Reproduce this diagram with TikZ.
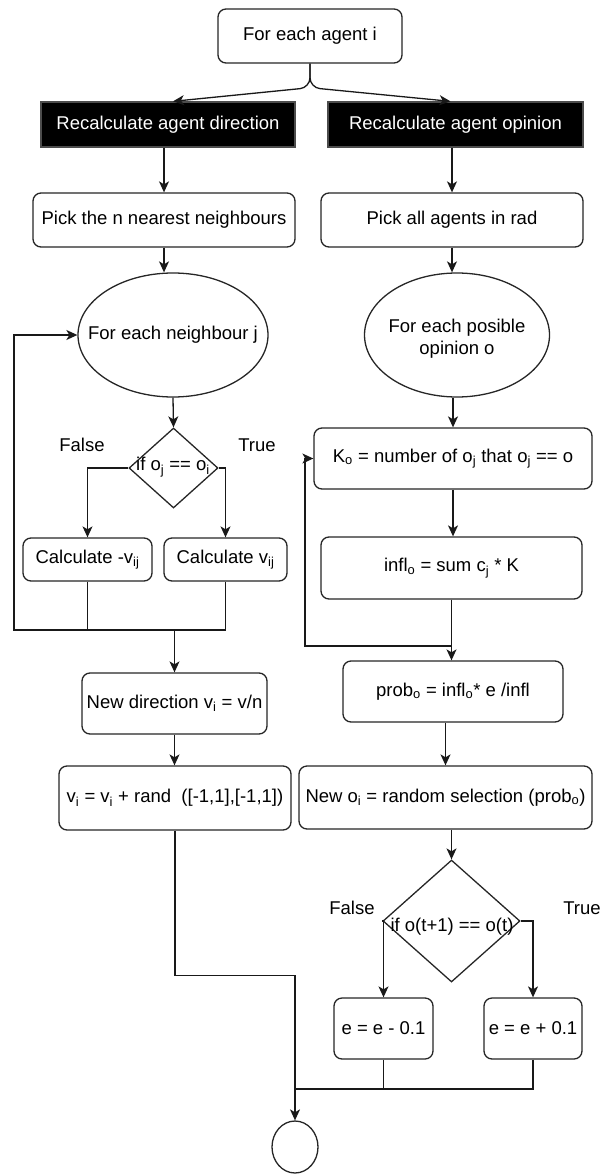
\documentclass[tikz,border=0pt]{standalone}
\usepackage{fontspec}
\setmainfont{Liberation Sans}
\usetikzlibrary{shapes.geometric,arrows.meta}

\newcommand{\idx}[1]{\textsubscript{#1}}

\tikzset{
  box/.style={draw=black!85, line width=1.3pt, rounded corners=8pt, fill=white, inner sep=0pt, align=center},
  head/.style={draw=black!70, line width=1.3pt, fill=black, text=white, inner sep=0pt},
  loopnode/.style={ellipse, draw=black!85, line width=1.3pt, inner sep=0pt},
  decision/.style={diamond, draw=black!85, line width=1.3pt, inner sep=0pt},
  lbl/.style={inner sep=0pt, align=center},
  conn/.style={line width=1.3pt, black!90},
  arr/.style={conn, -{Stealth[length=11pt,width=10pt,inset=3pt]}}
}

\begin{document}
\begin{tikzpicture}[x=1pt,y=-1pt,font=\fontsize{18.5}{22}\selectfont]

\useasboundingbox (0,0) rectangle (601,1174);

% Start
\node[box, minimum width=184pt, minimum height=54pt] (agent) at (310,36) {For each agent i};

% two branches
\node[head, minimum width=254pt, minimum height=45pt] (dirhead) at (168,124.5) {Recalculate agent direction};
\node[head, minimum width=255pt, minimum height=45pt] (ophead) at (455.5,124.5) {Recalculate agent opinion};

\node[box, minimum width=262pt, minimum height=54pt] (pickn) at (164,220) {Pick the n nearest neighbours};
\node[box, minimum width=262pt, minimum height=54pt] (pickall) at (452,220) {Pick all agents in rad};

% left side: direction
\node[loopnode, minimum width=190pt, minimum height=124pt] (nbr) at (173,335) {};
\node[lbl] (nbrtxt) at (nbr) {For each neighbour j};

\node[decision, minimum width=89pt, minimum height=80pt] (ifo) at (173.5,468) {};
\node[lbl] (ifotxt) at (173,467) {if o\idx{j} == o\idx{i}};
\node[lbl] (falsea) at (82,445) {False};
\node[lbl] (truea) at (257,445) {True};

\node[box, minimum width=129pt, minimum height=43pt] (calcneg) at (87.5,559.5) {Calculate -v\idx{ij}};
\node[box, minimum width=123pt, minimum height=43pt] (calcpos) at (225.5,559.5) {Calculate v\idx{ij}};

\node[box, minimum width=185pt, minimum height=61pt] (newdir) at (174.5,703.5) {New direction v\idx{i} = v/n};
\node[box, minimum width=232pt, minimum height=64pt] (randv) at (175,798) {v\idx{i} = v\idx{i} + rand~~([-1,1],[-1,1])};

% right side: opinion
\node[loopnode, minimum width=185pt, minimum height=124pt] (oploop) at (457,335) {};
\node[lbl] (oplooptxt) at (457,339) {For each posible\\opinion o};

\node[box, minimum width=278pt, minimum height=61pt] (kbox) at (453,458.5) {K\idx{o} = number of o\idx{j} that o\idx{j} == o};
\node[box, minimum width=261pt, minimum height=62pt] (infl) at (451.5,568) {infl\idx{o} = sum c\idx{j} * K};
\node[box, minimum width=220pt, minimum height=61pt] (prob) at (453,691.5) {prob\idx{o} = infl\idx{o}* e /infl};
\node[box, minimum width=293pt, minimum height=63pt] (newop) at (445.5,797.5) {New o\idx{i} = random selection (prob\idx{o})};

\node[decision, minimum width=137pt, minimum height=122pt] (ift) at (451.5,921) {};
\node[lbl] (ifttxt) at (452,927) {if o(t+1) == o(t)};
\node[lbl] (falseb) at (352,908) {False};
\node[lbl] (trueb) at (582,908) {True};

\node[box, minimum width=99pt, minimum height=61pt] (eminus) at (383.5,1028.5) {e = e - 0.1};
\node[box, minimum width=98pt, minimum height=61pt] (eplus) at (533,1028.5) {e = e + 0.1};

% end
\node[loopnode, minimum width=46pt, minimum height=52pt] (stop) at (295,1147) {};

\coordinate (loopl) at (14,630);
\coordinate (loopr) at (305,646);
\coordinate (merge) at (295,1089);

% connectors top
\draw[arr, rounded corners=10pt] (agent.south) -- ++(0,24) -- ([xshift=5pt]dirhead.north);
\draw[arr, rounded corners=10pt] (agent.south) -- ++(0,24) -- ([xshift=-5pt]ophead.north);
\draw[arr] (pickn.north |- dirhead.south) -- (pickn.north);
\draw[arr] (pickall.north |- ophead.south) -- (pickall.north);

% connectors left
\draw[arr] (pickn.south) -- (pickn.south |- nbr.north);
\draw[arr] (nbr.south) -- (ifo.north);
\draw[arr] (ifo.west) -| (calcneg.north);
\draw[arr] (ifo.east) -| (calcpos.north);
\draw[arr] (calcneg.south) |- (loopl) |- (nbr.west);
\draw[conn] (calcpos.south) |- (calcneg.south |- loopl);
\draw[arr] (newdir.north |- loopl) -- (newdir.north);
\draw[arr] (newdir.south) -- (newdir.south |- randv.north);
\draw[arr] (randv.south) -- ++(0,145) -| (stop.north);

% connectors right
\draw[arr] (pickall.south) -- (pickall.south |- oploop.north);
\draw[arr] (kbox.north |- oploop.south) -- (kbox.north);
\draw[arr] (kbox.south) -- (kbox.south |- infl.north);
\draw[arr] (infl.south) -- (infl.south |- prob.north);
\draw[arr] (infl.south) |- (loopr) |- (kbox.west);
\draw[arr] (newop.north |- prob.south) -- (newop.north);
\draw[arr] (ift.north |- newop.south) -- (ift.north);
\draw[arr] (ift.west) -| (eminus.north);
\draw[arr] (ift.east) -| (eplus.north);
\draw[conn] (eminus.south) -- (eminus.south |- merge);
\draw[conn] (eplus.south) |- (merge);

\end{tikzpicture}
\end{document}
